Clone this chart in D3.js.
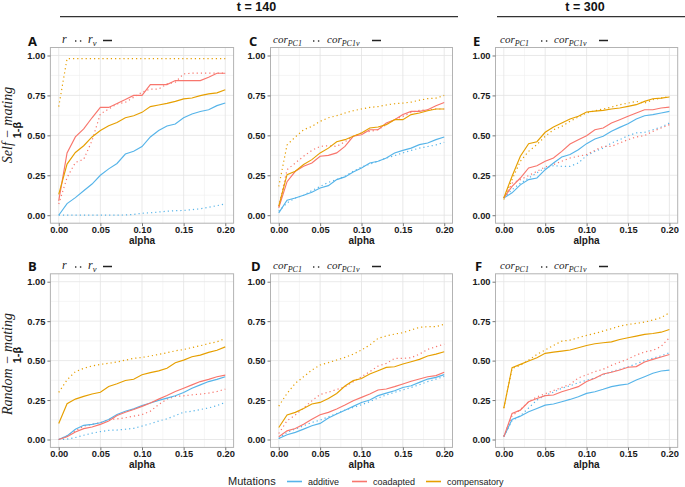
<!DOCTYPE html>
<html><head><meta charset="utf-8">
<script src="https://cdn.jsdelivr.net/npm/d3@7/dist/d3.min.js"></script>
<style>body{margin:0;background:#fff}svg{display:block}</style>
</head><body>
<svg id="chart" width="685" height="487"></svg>
<script>
// ---------------- data ----------------
const alphaVals = [0,0.01,0.02,0.03,0.04,0.05,0.06,0.07,0.08,0.09,0.10,0.11,0.12,0.13,0.14,0.15,0.16,0.17,0.18,0.19,0.20];
const mutations = ["additive","coadapted","compensatory"];
const xTicks = [0,0.05,0.10,0.15,0.20];
const yTicks = [0,0.25,0.50,0.75,1.00];
const headers = ["t = 140","t = 300"];
const panelLetters = ["A","C","E","B","D","F"];
const rowTitles = ["Self \u2212 mating","Random \u2212 mating"];

// A : self-mating, r (dotted) / r_v (solid)
const A_additive_r      = [0,0,0,0,0,0,0,0,0.002,0.005,0.012,0.015,0.02,0.025,0.028,0.03,0.035,0.04,0.05,0.06,0.07];
const A_additive_rv     = [0,0.073,0.11,0.153,0.195,0.25,0.29,0.324,0.383,0.40,0.43,0.49,0.53,0.559,0.571,0.61,0.634,0.649,0.66,0.686,0.703];
const A_coadapted_r     = [0.07,0.236,0.33,0.35,0.467,0.634,0.665,0.697,0.707,0.738,0.77,0.79,0.79,0.822,0.833,0.885,0.889,0.889,0.889,0.889,0.889];
const A_coadapted_rv    = [0.09,0.39,0.49,0.54,0.61,0.675,0.675,0.70,0.724,0.75,0.75,0.818,0.818,0.818,0.843,0.843,0.843,0.843,0.864,0.889,0.889];
const A_compensatory_r  = [0.68,0.98,0.98,0.98,0.98,0.98,0.98,0.98,0.98,0.98,0.98,0.98,0.98,0.98,0.98,0.98,0.98,0.98,0.98,0.98,0.98];
const A_compensatory_rv = [0.13,0.32,0.393,0.435,0.49,0.53,0.56,0.58,0.61,0.623,0.644,0.68,0.69,0.70,0.713,0.728,0.734,0.749,0.76,0.766,0.785];

// C : self-mating t=140, cor_PC1 (dotted) / cor_PC1v (solid)
const C_additive_r      = [0.025,0.077,0.108,0.125,0.154,0.18,0.206,0.223,0.244,0.275,0.302,0.32,0.338,0.358,0.373,0.39,0.406,0.42,0.43,0.44,0.456];
const C_additive_rv     = [0.015,0.094,0.108,0.125,0.144,0.17,0.185,0.223,0.24,0.27,0.296,0.327,0.338,0.358,0.39,0.406,0.42,0.442,0.452,0.473,0.49];
const C_coadapted_r     = [0.056,0.285,0.327,0.369,0.406,0.431,0.435,0.431,0.46,0.494,0.515,0.525,0.535,0.567,0.598,0.619,0.644,0.656,0.66,0.665,0.665];
const C_coadapted_rv    = [0.046,0.21,0.275,0.306,0.327,0.369,0.375,0.39,0.431,0.494,0.504,0.535,0.535,0.577,0.598,0.63,0.65,0.65,0.66,0.685,0.706];
const C_compensatory_r  = [0.18,0.44,0.49,0.535,0.556,0.588,0.61,0.623,0.64,0.654,0.665,0.675,0.68,0.69,0.698,0.702,0.708,0.72,0.73,0.733,0.75];
const C_compensatory_rv = [0.056,0.254,0.275,0.317,0.348,0.39,0.42,0.46,0.473,0.494,0.515,0.546,0.552,0.567,0.598,0.598,0.63,0.64,0.654,0.665,0.665];

// E : self-mating t=300
const E_additive_r      = [0.108,0.16,0.2,0.233,0.265,0.296,0.31,0.306,0.306,0.327,0.373,0.4,0.42,0.452,0.473,0.498,0.515,0.519,0.535,0.552,0.577];
const E_additive_rv     = [0.108,0.14,0.19,0.223,0.233,0.285,0.327,0.365,0.38,0.41,0.448,0.477,0.494,0.525,0.55,0.573,0.602,0.623,0.63,0.64,0.65];
const E_coadapted_r     = [0.108,0.2,0.223,0.248,0.275,0.302,0.317,0.338,0.358,0.369,0.38,0.406,0.431,0.431,0.452,0.473,0.49,0.498,0.525,0.546,0.567];
const E_coadapted_rv    = [0.108,0.18,0.233,0.296,0.31,0.338,0.358,0.4,0.446,0.473,0.498,0.535,0.546,0.577,0.598,0.619,0.64,0.66,0.66,0.671,0.677];
const E_compensatory_r  = [0.098,0.223,0.338,0.4,0.442,0.494,0.535,0.556,0.588,0.615,0.64,0.654,0.665,0.677,0.692,0.702,0.7125,0.702,0.723,0.733,0.744];
const E_compensatory_rv = [0.108,0.244,0.369,0.448,0.46,0.519,0.552,0.577,0.602,0.619,0.646,0.652,0.656,0.665,0.671,0.681,0.692,0.7125,0.729,0.733,0.74];

// B : random-mating, r / r_v
const B_additive_r      = [0,0.002,0.0125,0.027,0.04,0.05,0.058,0.06,0.065,0.071,0.085,0.1,0.117,0.131,0.152,0.173,0.179,0.19,0.2,0.215,0.235];
const B_additive_rv     = [0,0.023,0.065,0.09,0.096,0.106,0.127,0.158,0.179,0.194,0.215,0.231,0.248,0.2625,0.277,0.298,0.325,0.346,0.367,0.381,0.398];
const B_coadapted_r     = [0,0.023,0.054,0.085,0.096,0.106,0.127,0.131,0.1375,0.148,0.158,0.179,0.221,0.256,0.273,0.277,0.283,0.2875,0.294,0.304,0.319];
const B_coadapted_rv    = [0,0.017,0.048,0.069,0.079,0.096,0.117,0.152,0.173,0.19,0.21,0.231,0.256,0.279,0.304,0.325,0.346,0.367,0.381,0.398,0.408];
const B_compensatory_r  = [0.299,0.378,0.43,0.451,0.466,0.476,0.483,0.491,0.503,0.514,0.52,0.529,0.539,0.55,0.562,0.57,0.583,0.594,0.608,0.619,0.64];
const B_compensatory_rv = [0.102,0.227,0.256,0.273,0.288,0.299,0.336,0.353,0.374,0.382,0.41,0.424,0.435,0.451,0.487,0.503,0.524,0.535,0.552,0.566,0.587];

// D : random-mating t=140
const D_additive_r      = [0.006,0.045,0.066,0.087,0.108,0.123,0.144,0.165,0.186,0.203,0.22,0.24,0.263,0.282,0.299,0.314,0.33,0.347,0.367,0.383,0.4];
const D_additive_rv     = [0.006,0.03,0.045,0.066,0.087,0.102,0.136,0.161,0.186,0.21,0.235,0.25,0.278,0.294,0.309,0.33,0.341,0.362,0.383,0.394,0.411];
const D_coadapted_r     = [0.038,0.119,0.155,0.2,0.245,0.285,0.30,0.317,0.334,0.366,0.398,0.43,0.465,0.482,0.514,0.514,0.518,0.541,0.571,0.588,0.605];
const D_coadapted_rv    = [0.017,0.055,0.07,0.097,0.129,0.157,0.172,0.193,0.218,0.246,0.267,0.288,0.314,0.32,0.335,0.352,0.369,0.383,0.398,0.405,0.426];
const D_compensatory_r  = [0.212,0.292,0.356,0.398,0.44,0.472,0.487,0.504,0.52,0.541,0.567,0.599,0.641,0.656,0.668,0.677,0.694,0.711,0.715,0.715,0.73];
const D_compensatory_rv = [0.076,0.155,0.172,0.197,0.225,0.235,0.26,0.292,0.339,0.373,0.387,0.415,0.436,0.457,0.461,0.478,0.493,0.508,0.529,0.541,0.556];

// F : random-mating t=300
const F_additive_r      = [0.02,0.12,0.15,0.2,0.25,0.28,0.3,0.325,0.34,0.36,0.375,0.39,0.41,0.43,0.445,0.46,0.48,0.5,0.515,0.53,0.55];
const F_additive_rv     = [0.017,0.127,0.148,0.176,0.197,0.218,0.225,0.239,0.254,0.271,0.292,0.303,0.318,0.335,0.345,0.352,0.377,0.398,0.42,0.434,0.44];
const F_coadapted_r     = [0.02,0.15,0.19,0.24,0.27,0.29,0.31,0.33,0.35,0.39,0.41,0.43,0.445,0.47,0.49,0.51,0.535,0.555,0.565,0.59,0.645];
const F_coadapted_rv    = [0.017,0.165,0.186,0.239,0.26,0.278,0.282,0.303,0.318,0.335,0.367,0.388,0.415,0.426,0.44,0.458,0.462,0.491,0.508,0.523,0.539];
const F_compensatory_r  = [0.2,0.45,0.47,0.503,0.539,0.567,0.596,0.623,0.63,0.645,0.66,0.672,0.687,0.702,0.719,0.729,0.736,0.744,0.757,0.772,0.803];
const F_compensatory_rv = [0.197,0.455,0.476,0.497,0.518,0.546,0.554,0.56,0.567,0.581,0.596,0.607,0.613,0.619,0.634,0.645,0.655,0.666,0.672,0.68,0.697];

// ---------------- layout / style ----------------
const colorScale = d3.scaleOrdinal().domain(mutations).range(["#56B4E9","#F8766D","#E69F00"]);
const colEdges = [[50.4,233.6],[270.5,452.5],[495.5,677.7]];
const rowEdges = [[47.5,223.2],[273.8,447.4]];
const svg = d3.select("#chart");
const TICKFONT = "'Liberation Sans', Arial, sans-serif";
const SERIF = "'Liberation Serif', 'Times New Roman', serif";

const panels = [
  {letter:"A", row:0, col:0, kind:"r",   data:{additive:[A_additive_r,A_additive_rv], coadapted:[A_coadapted_r,A_coadapted_rv], compensatory:[A_compensatory_r,A_compensatory_rv]}},
  {letter:"C", row:0, col:1, kind:"cor", data:{additive:[C_additive_r,C_additive_rv], coadapted:[C_coadapted_r,C_coadapted_rv], compensatory:[C_compensatory_r,C_compensatory_rv]}},
  {letter:"E", row:0, col:2, kind:"cor", data:{additive:[E_additive_r,E_additive_rv], coadapted:[E_coadapted_r,E_coadapted_rv], compensatory:[E_compensatory_r,E_compensatory_rv]}},
  {letter:"B", row:1, col:0, kind:"r",   data:{additive:[B_additive_r,B_additive_rv], coadapted:[B_coadapted_r,B_coadapted_rv], compensatory:[B_compensatory_r,B_compensatory_rv]}},
  {letter:"D", row:1, col:1, kind:"cor", data:{additive:[D_additive_r,D_additive_rv], coadapted:[D_coadapted_r,D_coadapted_rv], compensatory:[D_compensatory_r,D_compensatory_rv]}},
  {letter:"F", row:1, col:2, kind:"cor", data:{additive:[F_additive_r,F_additive_rv], coadapted:[F_coadapted_r,F_coadapted_rv], compensatory:[F_compensatory_r,F_compensatory_rv]}}
];

panels.forEach(p => {
  const [L,R] = colEdges[p.col];
  const [T,B] = rowEdges[p.row];
  const x = d3.scaleLinear().domain([-0.01,0.21]).range([L,R]);
  const y = d3.scaleLinear().domain([-0.05,1.05]).range([B,T]);
  const g = svg.append("g");

  g.append("rect").attr("x",L).attr("y",T).attr("width",R-L).attr("height",B-T).attr("fill","#fff");
  // minor grid
  const xMinor = xTicks.slice(0,-1).map((d,i)=> (d + xTicks[i+1])/2);
  const yMinor = yTicks.slice(0,-1).map((d,i)=> (d + yTicks[i+1])/2);
  g.selectAll(".xm").data(xMinor).enter().append("line")
    .attr("x1",d=>x(d)).attr("x2",d=>x(d)).attr("y1",T).attr("y2",B)
    .attr("stroke","#f0f0f0").attr("stroke-width",0.6);
  g.selectAll(".ym").data(yMinor).enter().append("line")
    .attr("y1",d=>y(d)).attr("y2",d=>y(d)).attr("x1",L).attr("x2",R)
    .attr("stroke","#f0f0f0").attr("stroke-width",0.6);
  // major grid
  g.selectAll(".xg").data(xTicks).enter().append("line")
    .attr("x1",d=>x(d)).attr("x2",d=>x(d)).attr("y1",T).attr("y2",B)
    .attr("stroke","#e3e3e3").attr("stroke-width",0.8);
  g.selectAll(".yg").data(yTicks).enter().append("line")
    .attr("y1",d=>y(d)).attr("y2",d=>y(d)).attr("x1",L).attr("x2",R)
    .attr("stroke","#e3e3e3").attr("stroke-width",0.8);

  // lines
  const line = d3.line().x((d,i)=>x(alphaVals[i])).y(d=>y(d));
  mutations.forEach(m => {
    const [dotted, solid] = p.data[m];
    g.append("path").attr("d", line(dotted)).attr("fill","none")
      .attr("stroke", colorScale(m)).attr("stroke-width",1.2)
      .attr("stroke-dasharray","1.2,3");
  });
  mutations.forEach(m => {
    const [dotted, solid] = p.data[m];
    g.append("path").attr("d", line(solid)).attr("fill","none")
      .attr("stroke", colorScale(m)).attr("stroke-width",1.15);
  });

  // border
  g.append("rect").attr("x",L).attr("y",T).attr("width",R-L).attr("height",B-T)
    .attr("fill","none").attr("stroke","#b3b3b3").attr("stroke-width",1);

  // axes
  const ya = g.append("g").attr("transform",`translate(${L},0)`)
    .call(d3.axisLeft(y).tickValues(yTicks).tickFormat(d3.format(".2f")).tickSize(3).tickPadding(2));
  const xa = g.append("g").attr("transform",`translate(0,${B})`)
    .call(d3.axisBottom(x).tickValues(xTicks).tickFormat(d3.format(".2f")).tickSize(3).tickPadding(0));
  [ya,xa].forEach(a => {
    a.select(".domain").remove();
    a.selectAll(".tick line").attr("stroke","#777");
    a.selectAll("text").attr("fill","#1a1a1a").attr("font-family",TICKFONT)
      .attr("font-weight","bold").attr("font-size","9.3px");
  });

  // x title
  g.append("text").attr("x",(x(0)+x(0.2))/2).attr("y",B+21).attr("text-anchor","middle")
    .attr("font-family",TICKFONT).attr("font-weight","bold").attr("font-size","10px")
    .attr("fill","#1a1a1a").text("alpha");

  // panel letter
  const letterX = [28,249,473][p.col] + (p.row===1 && p.col>0 ? 2 : 0);
  g.append("text").attr("x",letterX).attr("y",p.row===0?45.5:270.5)
    .attr("font-family","'Open Sans', 'Liberation Sans', sans-serif").attr("font-weight","bold")
    .attr("font-size","13px").attr("fill","#111").text(p.letter);

  // linetype "legend" subtitle
  const base = p.row===0 ? 42.5 : 268.5;
  const sx = [[62,75,88,103],[273,313,327,372],[500,541,554,599]][p.col];
  const st = g.append("g").attr("font-family",SERIF).attr("font-style","italic").attr("fill","#222");
  if (p.kind==="r") {
    st.append("text").attr("x",sx[0]).attr("y",base).attr("font-size","12px").text("r");
    const t2 = st.append("text").attr("x",sx[2]).attr("y",base).attr("font-size","12px");
    t2.append("tspan").text("r");
    t2.append("tspan").attr("dy",3).attr("font-size","8.5px").text("v");
  } else {
    const t1 = st.append("text").attr("x",sx[0]).attr("y",base).attr("font-size","11px");
    t1.append("tspan").text("cor");
    t1.append("tspan").attr("dy",3).attr("font-size","8px").text("PC1");
    const t2 = st.append("text").attr("x",sx[2]).attr("y",base).attr("font-size","11px");
    t2.append("tspan").text("cor");
    t2.append("tspan").attr("dy",3).attr("font-size","8px").text("PC1v");
  }
  g.append("line").attr("x1",sx[1]).attr("x2",sx[1]+9).attr("y1",base-1.5).attr("y2",base-1.5)
    .attr("stroke","#333").attr("stroke-width",1.4).attr("stroke-dasharray","1.4,3.5");
  g.append("line").attr("x1",sx[3]).attr("x2",sx[3]+9).attr("y1",base-2).attr("y2",base-2)
    .attr("stroke","#222").attr("stroke-width",1.5);

  // row titles (first column only)
  if (p.col===0) {
    const cy = p.row===0 ? 125 : 364;
    const cy2 = p.row===0 ? 130 : 355;
    svg.append("text").attr("transform",`translate(11.5,${cy}) rotate(-90)`)
      .attr("text-anchor","middle").attr("font-family",SERIF).attr("font-style","italic")
      .attr("font-size","14px").attr("fill","#222").text(rowTitles[p.row]);
    svg.append("text").attr("transform",`translate(21,${cy2}) rotate(-90)`)
      .attr("text-anchor","middle").attr("font-family",TICKFONT).attr("font-weight","bold")
      .attr("font-size","11px").attr("fill","#111").text("1-\u03B2");
  }
});

// column headers
const hdr = [{t:headers[0], cx:256.5, x1:60, x2:458},{t:headers[1], cx:585, x1:497, x2:685}];
hdr.forEach(h => {
  svg.append("text").attr("x",h.cx).attr("y",11).attr("text-anchor","middle")
    .attr("font-family",TICKFONT).attr("font-weight","bold").attr("font-size","12.5px")
    .attr("fill","#111").text(h.t);
  svg.append("line").attr("x1",h.x1).attr("x2",h.x2).attr("y1",16.7).attr("y2",16.7)
    .attr("stroke","#333").attr("stroke-width",1.3);
});

// legend
const lg = svg.append("g");
lg.append("text").attr("x",228).attr("y",485).attr("font-family",TICKFONT)
  .attr("font-size","11px").attr("fill","#222").text("Mutations");
const keyX = [287,352,426];
mutations.forEach((m,i) => {
  lg.append("line").attr("x1",keyX[i]).attr("x2",keyX[i]+15).attr("y1",481.5).attr("y2",481.5)
    .attr("stroke",colorScale(m)).attr("stroke-width",1.6);
  lg.append("text").attr("x",keyX[i]+21).attr("y",484.5).attr("font-family",TICKFONT)
    .attr("font-size","9px").attr("fill","#222").text(m);
});
</script>
</body></html>
